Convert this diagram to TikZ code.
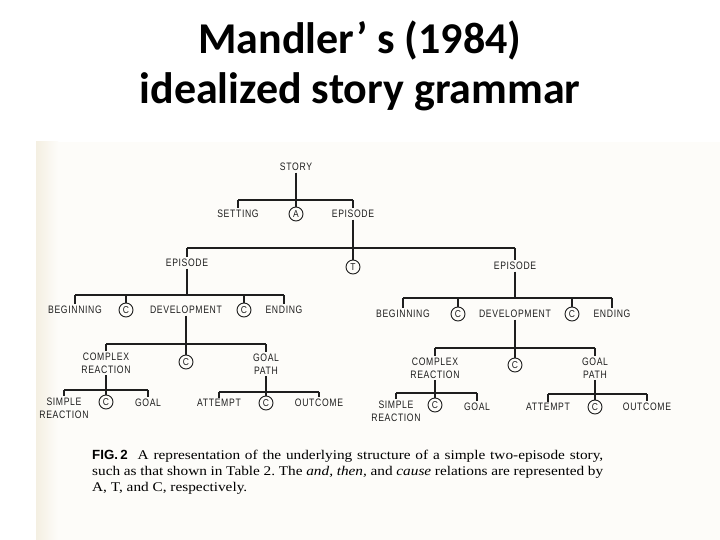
\documentclass[tikz,border=0pt]{standalone}
\usepackage{fontspec}
\setmainfont{Liberation Serif}
\newfontfamily\titlefont{Carlito}
\newfontfamily\labfont[FakeStretch=0.8,LetterSpace=6]{Liberation Sans}
\newfontfamily\circfont[FakeStretch=0.85]{Liberation Sans}
\newfontfamily\figfont{Liberation Sans}
\newfontfamily\capfont[FakeStretch=1.15]{Liberation Serif}
\definecolor{ink}{RGB}{30,30,30}
\definecolor{paper}{RGB}{253,252,249}
\definecolor{cream}{RGB}{244,239,226}
\tikzset{
  lab/.style={inner sep=1.5pt, text=ink, align=center,
    font=\labfont\fontsize{10.8}{13}\selectfont},
  rel/.style={circle, draw=ink, line width=0.9pt, inner sep=0pt, minimum size=14pt,
    text=ink, font=\circfont\fontsize{10}{10}\selectfont},
  ln/.style={draw=ink, line width=1.1pt},
  ttl/.style={anchor=base, inner sep=0pt, font=\titlefont\bfseries\fontsize{44}{46}\selectfont},
  capline/.style={anchor=base west, inner sep=0pt, font=\frenchspacing\capfont\fontsize{13.3}{16}\selectfont}
}
\begin{document}
\begin{tikzpicture}[x=1pt,y=-1pt]
\useasboundingbox (0,0) rectangle (720,540);
\fill[white] (0,0) rectangle (720,540);
\fill[paper] (36,142) rectangle (720,540);
\shade[left color=cream, right color=paper] (36,142) rectangle (58,540);

% title
\node[ttl] (t1) at (360,54) {Mandler’ s (1984)};
\node[ttl] (t2) at (360,104) {idealized story grammar};

% level 0-1
\node[lab] (story) at (296,167) {STORY};
\node[lab] (setting) at (238,214) {SETTING};
\node[rel] (a) at (296,214) {A};
\node[lab] (ep0) at (353,214) {EPISODE};
\coordinate (b0) at (0,200);
\draw[ln] (story.south) -- (a.north);
\draw[ln] (setting.north |- b0) -- (ep0.north |- b0);
\draw[ln] (setting.north |- b0) -- (setting.north);
\draw[ln] (ep0.north |- b0) -- (ep0.north);

% level 2
\node[lab] (epL) at (187,263) {EPISODE};
\node[rel] (t) at (353,267) {T};
\node[lab] (epR) at (515,266) {EPISODE};
\coordinate (b1) at (0,248);
\draw[ln] (ep0.south) -- (t.north);
\draw[ln] (epL.north |- b1) -- (epR.north |- b1);
\draw[ln] (epL.north |- b1) -- (epL.north);
\draw[ln] (epR.north |- b1) -- (epR.north);

% level 3 left
\node[lab] (begL) at (75,310) {BEGINNING};
\node[rel] (c1) at (126,310) {C};
\node[lab] (devL) at (186,310) {DEVELOPMENT};
\node[rel] (c2) at (244,310) {C};
\node[lab] (endL) at (284,310) {ENDING};
\coordinate (b2) at (0,295);
\draw[ln] (epL.south) -- (epL.south |- b2);
\draw[ln] (begL.north |- b2) -- (endL.north |- b2);
\foreach \n in {begL,c1,c2,endL} \draw[ln] (\n.north |- b2) -- (\n.north);

% level 3 right
\node[lab] (begR) at (403,314) {BEGINNING};
\node[rel] (c6) at (458,314) {C};
\node[lab] (devR) at (515,314) {DEVELOPMENT};
\node[rel] (c7) at (572,314) {C};
\node[lab] (endR) at (612,314) {ENDING};
\coordinate (b3) at (0,298);
\draw[ln] (epR.south) -- (epR.south |- b3);
\draw[ln] (begR.north |- b3) -- (endR.north |- b3);
\foreach \n in {begR,c6,c7,endR} \draw[ln] (\n.north |- b3) -- (\n.north);

% level 4 left
\node[lab] (crL) at (106,363) {COMPLEX\\REACTION};
\node[rel] (c3) at (186,362) {C};
\node[lab] (gpL) at (266,364) {GOAL\\PATH};
\coordinate (b4) at (0,344);
\draw[ln] (devL.south) -- (c3.north);
\draw[ln] (crL.north |- b4) -- (gpL.north |- b4);
\foreach \n in {crL,gpL} \draw[ln] (\n.north |- b4) -- (\n.north);

\node[lab] (srL) at (64,408) {SIMPLE\\REACTION};
\node[rel] (c4) at (106,402) {C};
\node[lab] (goalL) at (148,403) {GOAL};
\coordinate (b5) at (0,390);
\draw[ln] (crL.south) -- (c4.north);
\draw[ln] (srL.north |- b5) -- (goalL.north |- b5);
\foreach \n in {srL,goalL} \draw[ln] (\n.north |- b5) -- (\n.north);

\node[lab] (attL) at (219,403) {ATTEMPT};
\node[rel] (c5) at (266,403) {C};
\node[lab] (outL) at (319,403) {OUTCOME};
\coordinate (b6) at (0,392);
\draw[ln] (gpL.south) -- (c5.north);
\draw[ln] (attL.north |- b6) -- (outL.north |- b6);
\foreach \n in {attL,outL} \draw[ln] (\n.north |- b6) -- (\n.north);

% level 4 right
\node[lab] (crR) at (435,368) {COMPLEX\\REACTION};
\node[rel] (c8) at (515,365) {C};
\node[lab] (gpR) at (595,368) {GOAL\\PATH};
\coordinate (b7) at (0,348);
\draw[ln] (devR.south) -- (c8.north);
\draw[ln] (crR.north |- b7) -- (gpR.north |- b7);
\foreach \n in {crR,gpR} \draw[ln] (\n.north |- b7) -- (\n.north);

\node[lab] (srR) at (396,411) {SIMPLE\\REACTION};
\node[rel] (c9) at (435,405) {C};
\node[lab] (goalR) at (477,407) {GOAL};
\coordinate (b8) at (0,393);
\draw[ln] (crR.south) -- (c9.north);
\draw[ln] (srR.north |- b8) -- (goalR.north |- b8);
\foreach \n in {srR,goalR} \draw[ln] (\n.north |- b8) -- (\n.north);

\node[lab] (attR) at (548,407) {ATTEMPT};
\node[rel] (c10) at (595,407) {C};
\node[lab] (outR) at (647,407) {OUTCOME};
\coordinate (b9) at (0,394);
\draw[ln] (gpR.south) -- (c10.north);
\draw[ln] (attR.north |- b9) -- (outR.north |- b9);
\foreach \n in {attR,outR} \draw[ln] (\n.north |- b9) -- (\n.north);

% caption
\node[capline] (cap1) at (92,459) {\hbox to 511pt{{\figfont\bfseries\fontsize{13.3}{16}\selectfont FIG.\,2}\hspace{10pt}A representation of the underlying structure of a simple two-episode story,}};
\node[capline] (cap2) at (92,475) {\hbox to 511pt{such as that shown in Table 2. The \textit{and, then,} and \textit{cause} relations are represented by}};
\node[capline] (cap3) at (92,491) {A, T, and C, respectively.};
\end{tikzpicture}
\end{document}
